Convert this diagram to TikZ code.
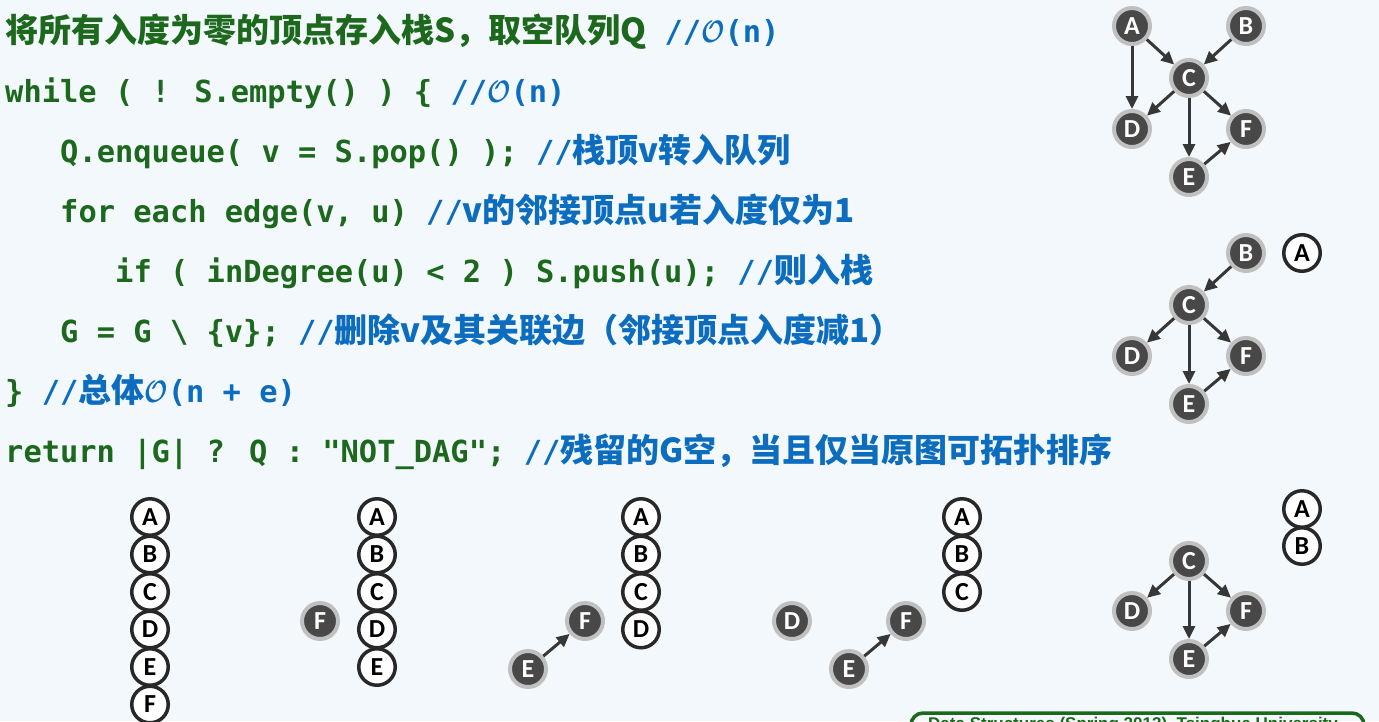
\documentclass[tikz,border=0pt]{standalone}
\usepackage{fontspec}
\usepackage{amsmath}
\usepackage{graphicx}
\usetikzlibrary{arrows.meta}
\newfontfamily\cjk{Noto Sans CJK SC}
\newfontfamily\mono{DejaVu Sans Mono}
\newfontfamily\lbl{Carlito}
\newfontfamily\foot{Liberation Sans}
\definecolor{bgc}{RGB}{243,248,252}
\definecolor{cg}{RGB}{28,104,28}
\definecolor{cb}{RGB}{12,108,190}
\definecolor{nd}{RGB}{72,72,72}
\definecolor{nb}{RGB}{192,192,192}
\definecolor{wb}{RGB}{40,40,40}
\definecolor{ar}{RGB}{55,55,55}
\newcommand\mt[1]{{\fontsize{30.4pt}{36pt}\mono\bfseries #1}}
\newcommand\ct[1]{{\fontsize{33pt}{40pt}\cjk\bfseries #1}}
\newcommand\bigO{\scalebox{2.5}[3.1]{$\boldsymbol{\mathcal{O}}$}}
\tikzset{
  codeline/.style={anchor=base west, inner sep=0pt},
  dn/.style={circle, fill=nd, draw=nb, line width=4pt, minimum size=36pt, inner sep=0pt,
    text=white, font=\fontsize{26pt}{26pt}\lbl\bfseries},
  wn/.style={circle, fill=white, draw=wb, line width=3.5pt, minimum size=36.5pt, inner sep=0pt,
    text=black, font=\fontsize{26pt}{26pt}\lbl\bfseries},
  ed/.style={-{Triangle[length=13pt,width=12pt]}, line width=3pt, draw=ar},
}
\begin{document}
\begin{tikzpicture}[x=1pt,y=-1pt]
\useasboundingbox (0,0) rectangle (1379,721);
\clip (0,0) rectangle (1379,721);
\fill[bgc] (0,0) rectangle (1379,721);

% code lines
\node[codeline] (l1) at (5,42) {{\color{cg}\ct{将所有入度为零的顶点存入栈S，取空队列Q}}{\color{cb}\mt{~//}\bigO\mt{(n)}}};
\node[codeline] (l2) at (5,102) {\mt{\color{cg}while ( ! S.empty() ) \{ }{\color{cb}\mt{//}\bigO\mt{(n)}}};
\node[codeline] (l3) at (60,162) {\mt{\color{cg}Q.enqueue( v = S.pop() ); }{\color{cb}\mt{//}\ct{栈顶v转入队列}}};
\node[codeline] (l4) at (60,222) {\mt{\color{cg}for each edge(v, u) }{\color{cb}\mt{//}\ct{v的邻接顶点u若入度仅为1}}};
\node[codeline] (l5) at (115,282) {\mt{\color{cg}if ( inDegree(u) < 2 ) S.push(u); }{\color{cb}\mt{//}\ct{则入栈}}};
\node[codeline] (l6) at (60,342) {\mt{\color{cg}G = G \textbackslash{} \{v\}; }{\color{cb}\mt{//}\ct{删除v及其关联边（邻接顶点入度减1）}}};
\node[codeline] (l7) at (5,402) {\mt{\color{cg}\} }{\color{cb}\mt{//}\ct{总体}\bigO\mt{(n + e)}}};
\node[codeline] (l8) at (5,462) {\mt{\color{cg}return |G| ? Q : "NOT\_DAG"; }{\color{cb}\mt{//}\ct{残留的G空，当且仅当原图可拓扑排序}}};

% graph 1
\node[dn] (aA) at (1132,26) {A};
\node[dn] (aB) at (1246,26) {B};
\node[dn] (aC) at (1189,78) {C};
\node[dn] (aD) at (1132,129) {D};
\node[dn] (aF) at (1246,129) {F};
\node[dn] (aE) at (1189,177) {E};
\draw[ed] (aA) -- (aC);
\draw[ed] (aB) -- (aC);
\draw[ed] (aA) -- (aD);
\draw[ed] (aC) -- (aD);
\draw[ed] (aC) -- (aE);
\draw[ed] (aC) -- (aF);
\draw[ed] (aE) -- (aF);

% graph 2
\node[dn] (bB) at (1246,253) {B};
\node[wn] (bA) at (1302,253) {A};
\node[dn] (bC) at (1189,305) {C};
\node[dn] (bD) at (1132,356) {D};
\node[dn] (bF) at (1246,356) {F};
\node[dn] (bE) at (1189,404) {E};
\draw[ed] (bB) -- (bC);
\draw[ed] (bC) -- (bD);
\draw[ed] (bC) -- (bE);
\draw[ed] (bC) -- (bF);
\draw[ed] (bE) -- (bF);

% graph 3
\node[wn] (cA) at (1302,509) {A};
\node[wn] (cB) at (1302,546) {B};
\node[dn] (cC) at (1189,561) {C};
\node[dn] (cD) at (1132,611) {D};
\node[dn] (cF) at (1246,611) {F};
\node[dn] (cE) at (1189,659) {E};
\draw[ed] (cC) -- (cD);
\draw[ed] (cC) -- (cE);
\draw[ed] (cC) -- (cF);
\draw[ed] (cE) -- (cF);

% stack 1
\node[wn] (s1A) at (150,517) {A};
\node[wn] (s1B) at (150,554.5) {B};
\node[wn] (s1C) at (150,592) {C};
\node[wn] (s1D) at (150,629.5) {D};
\node[wn] (s1E) at (150,667) {E};
\node[wn] (s1F) at (150,704.5) {F};

% stack 2
\node[wn] (s2A) at (377,517) {A};
\node[wn] (s2B) at (377,554.5) {B};
\node[wn] (s2C) at (377,592) {C};
\node[wn] (s2D) at (377,629.5) {D};
\node[wn] (s2E) at (377,667) {E};
\node[dn] (s2F) at (320,621) {F};

% stack 3
\node[wn] (s3A) at (641,517) {A};
\node[wn] (s3B) at (641,554.5) {B};
\node[wn] (s3C) at (641,592) {C};
\node[wn] (s3D) at (641,629.5) {D};
\node[dn] (s3F) at (585,621) {F};
\node[dn] (s3E) at (528,669) {E};
\draw[ed] (s3E) -- (s3F);

% stack 4
\node[wn] (s4A) at (962,517) {A};
\node[wn] (s4B) at (962,554.5) {B};
\node[wn] (s4C) at (962,592) {C};
\node[dn] (s4D) at (792,621) {D};
\node[dn] (s4F) at (906,621) {F};
\node[dn] (s4E) at (849,669) {E};
\draw[ed] (s4E) -- (s4F);

% footer box (mostly cut off in the reference)
\draw[cg, line width=3.5pt, rounded corners=12pt] (911,713) rectangle (1364,780);
\node[anchor=north west, inner sep=0pt, text=cg, font=\fontsize{17pt}{20pt}\foot\bfseries] (ft) at (928,717) {Data Structures (Spring 2013), Tsinghua University};
\end{tikzpicture}
\end{document}
